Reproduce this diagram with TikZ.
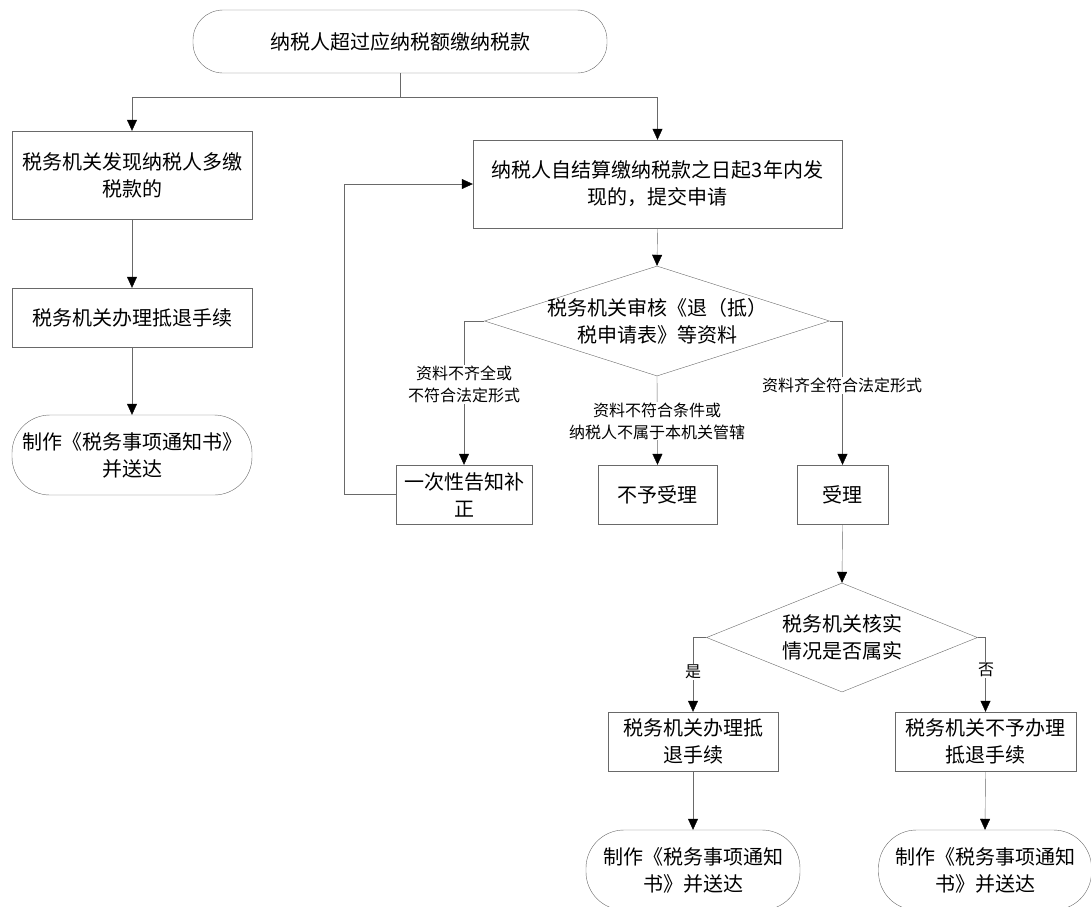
\documentclass[tikz,border=0pt]{standalone}
\usepackage{fontspec}
\setmainfont{Noto Sans CJK SC}
\usetikzlibrary{arrows.meta,calc,positioning,shapes.geometric}
\definecolor{flowL}{RGB}{105,105,105}

\begin{document}
\begin{tikzpicture}[x=1pt,y=-1pt,
  procbox/.style={draw=flowL,align=center,inner sep=0pt,font=\fontsize{20}{27}\selectfont},
  termbox/.style={procbox,rounded corners=#1},
  decbox/.style={draw=flowL,diamond,inner sep=0pt},
  dectext/.style={align=center,font=\fontsize{20}{27}\selectfont},
  lbl/.style={fill=white,align=center,inner sep=1pt,font=\fontsize{16}{22}\selectfont},
  flow/.style={draw=flowL,-{Triangle[length=11pt,width=10pt,color=black,fill=black]}}]
\useasboundingbox (0,0) rectangle (1091,906);
\clip (0,0) rectangle (1091,906);
% start and left column
\node[termbox=30pt,minimum width=414pt,minimum height=63pt] (start) at (400,41.5) {纳税人超过应纳税额缴纳税款};
\node[procbox,minimum width=240pt,minimum height=88pt] (find) at (132,175) {税务机关发现纳税人多缴\\税款的};
\node[procbox,minimum width=240pt,minimum height=59pt] (done) at (132,317.5) {税务机关办理抵退手续};
\node[termbox=38pt,minimum width=240pt,minimum height=80pt] (noteL) at (132,455) {制作《税务事项通知书》\\并送达};
% application and review
\node[procbox,minimum width=369pt,minimum height=88pt] (apply) at (657.5,184) {纳税人自结算缴纳税款之日起3年内发\\现的，提交申请};
\node[decbox,minimum width=345pt,minimum height=110pt] (chk) at (657,321) {};
\node[dectext] (chkT) at (chk) {税务机关审核《退（抵）\\税申请表》等资料};
\node[procbox,minimum width=136pt,minimum height=59pt] (fix) at (464,494.5) {一次性告知补\\正};
\node[procbox,minimum width=119pt,minimum height=59pt] (rej) at (657.5,494.5) {不予受理};
\node[procbox,minimum width=91pt,minimum height=59pt] (acc) at (842.5,494.5) {受理};
% verification
\node[decbox,minimum width=271pt,minimum height=109pt] (ver) at (842,637.5) {};
\node[dectext] (verT) at (ver) {税务机关核实\\情况是否属实};
\node[procbox,minimum width=170pt,minimum height=59pt] (ok) at (693,741.5) {税务机关办理抵\\退手续};
\node[procbox,minimum width=181pt,minimum height=59pt] (no) at (985.5,741.5) {税务机关不予办理\\抵退手续};
\node[termbox=38pt,minimum width=214pt,minimum height=80pt] (noteY) at (693,870) {制作《税务事项通知\\书》并送达};
\node[termbox=38pt,minimum width=213pt,minimum height=80pt] (noteN) at (985,870) {制作《税务事项通知\\书》并送达};
% connectors
\draw[draw=flowL] (start.south) -- ++(0,24) coordinate (split);
\draw[flow] (split) -| (find.north);
\draw[flow] (split) -| (apply.north);
\foreach \a/\b in {find/done,done/noteL,apply/chk,chk/rej,acc/ver,ok/noteY,no/noteN}
  \draw[flow] (\a.south) -- (\b.north);
\draw[flow] (chk.west) -| (fix.north);
\draw[flow] (chk.east) -| (acc.north);
\draw[flow] (ver.west) -| (ok.north);
\draw[flow] (ver.east) -| (no.north);
\draw[flow] (fix.west) -- ($(fix.west)+(-52,0)$) |- (apply.west);
% branch labels
\node[lbl] (l1) at (464,384) {资料不齐全或\\不符合法定形式};
\node[lbl] (l2) at (657,421) {资料不符合条件或\\纳税人不属于本机关管辖};
\node[lbl] (l3) at (842,385) {资料齐全符合法定形式};
\node[lbl] (l4) at (693,672) {是};
\node[lbl] (l5) at (986,670) {否};
\end{tikzpicture}
\end{document}
